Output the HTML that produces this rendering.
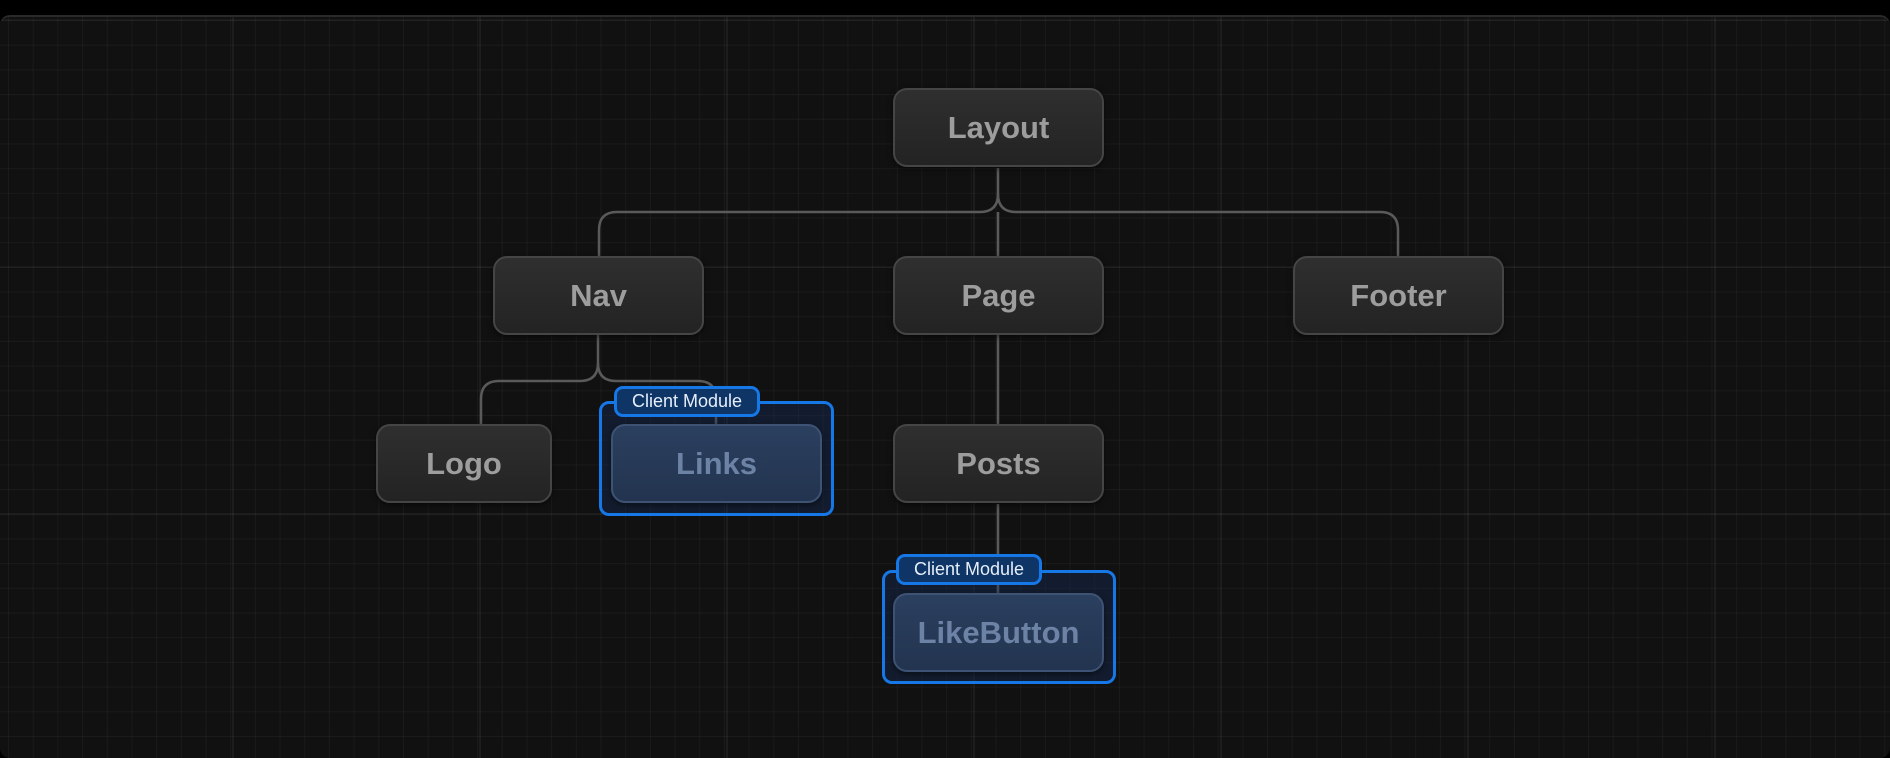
<!DOCTYPE html>
<html><head><meta charset="utf-8"><style>
html,body{margin:0;padding:0;background:#000;width:1890px;height:758px;overflow:hidden;font-family:"Liberation Sans",sans-serif}
.panel{position:absolute;left:0;top:15px;width:1890px;height:743px;border-radius:10px;border-top:2px solid #2a2a2a;box-sizing:border-box;
background-color:#111;
background-image:
linear-gradient(to right,rgba(255,255,255,0.05) 2px,transparent 2px),
linear-gradient(to bottom,rgba(255,255,255,0.035) 2px,transparent 2px),
linear-gradient(to right,rgba(255,255,255,0.04) 1px,transparent 1px),
linear-gradient(to bottom,rgba(255,255,255,0.04) 1px,transparent 1px);
background-size:247px 247px,247px 247px,24.7px 24.7px,24.7px 24.7px;
background-position:232px 0,0 2px,8px 0,0 3px}
.node{position:absolute;width:211px;height:79px;box-sizing:border-box;border:2px solid #454545;border-radius:14px;
background:linear-gradient(#2f2f2f,#232323);color:#9d9d9d;font-weight:bold;font-size:31px;display:flex;align-items:center;justify-content:center;box-shadow:0 2px 6px rgba(0,0,0,.5)}
.cm{position:absolute;box-sizing:border-box;border:3px solid #1677e6;border-radius:10px;background:rgba(20,50,100,0.35)}
.cmn{background:linear-gradient(#2b3f5f,#22344f);border-color:#3e5274;color:#6d83a6}
.tag{position:absolute;box-sizing:border-box;height:31px;border:3px solid #1677e6;border-radius:9px;background:#0e3565;color:#e6eefa;font-size:18px;display:flex;align-items:center;justify-content:center;width:146px}
svg{position:absolute;left:0;top:0}
</style></head><body>
<div class="panel"></div>
<svg width="1890" height="758" fill="none" stroke="#5a5a5a" stroke-width="2.5">
<path d="M998 168 V194 Q998 212 980 212 H617 Q599 212 599 230 V256"/>
<path d="M998 194 Q998 212 1016 212 H1380 Q1398 212 1398 230 V256"/>
<path d="M998 212 V256"/>
<path d="M598 335 V363 Q598 381 580 381 H499 Q481 381 481 399 V424"/>
<path d="M598 363 Q598 381 616 381 H698 Q716 381 716 399 V424"/>
<path d="M998 335 V424"/>
<path d="M998 504 V593"/>
</svg>
<div class="node" style="left:893px;top:88px">Layout</div>
<div class="node" style="left:493px;top:256px">Nav</div>
<div class="node" style="left:893px;top:256px">Page</div>
<div class="node" style="left:1293px;top:256px">Footer</div>
<div class="node" style="left:376px;top:424px;width:176px">Logo</div>
<div class="node" style="left:893px;top:424px">Posts</div>
<div class="cm" style="left:599px;top:401px;width:235px;height:115px"></div>
<div class="node cmn" style="left:611px;top:424px">Links</div>
<div class="tag" style="left:614px;top:386px">Client Module</div>
<div class="cm" style="left:882px;top:570px;width:234px;height:114px"></div>
<div class="node cmn" style="left:893px;top:593px">LikeButton</div>
<div class="tag" style="left:896px;top:554px">Client Module</div>
</body></html>
